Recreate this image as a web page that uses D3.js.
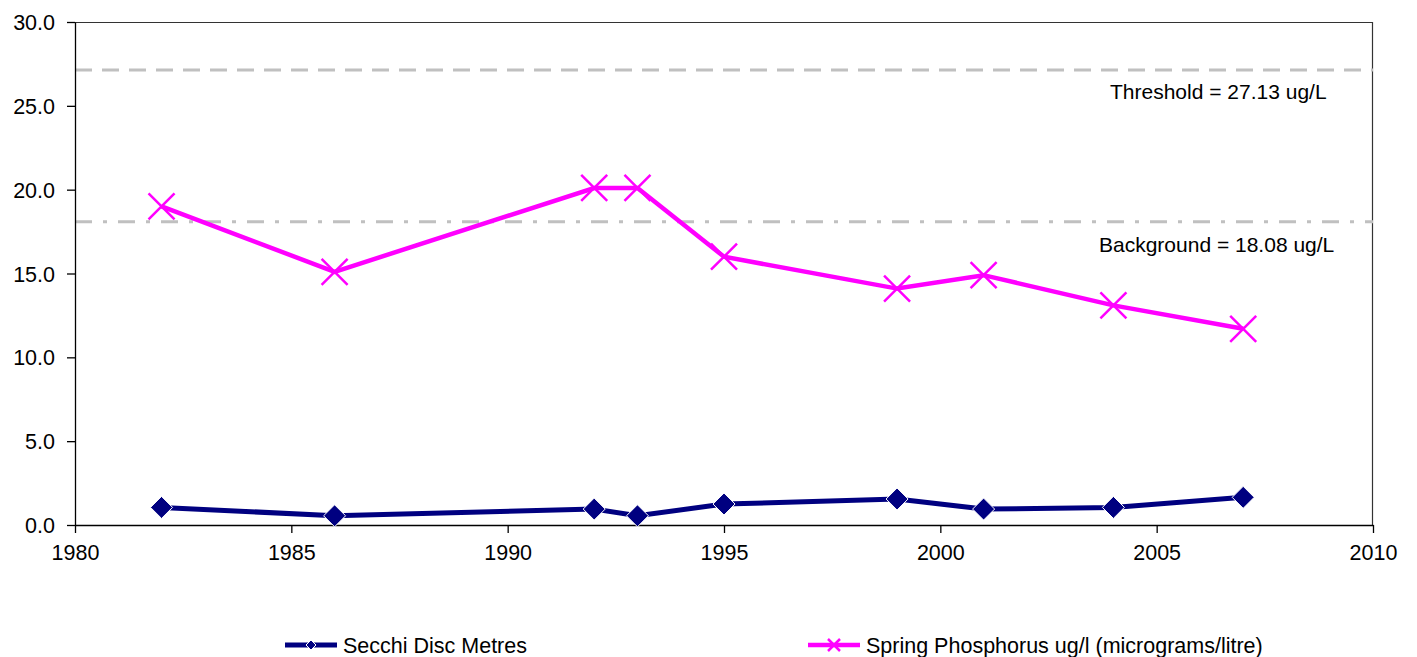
<!DOCTYPE html>
<html>
<head>
<meta charset="utf-8">
<script src="https://cdn.jsdelivr.net/npm/d3@7"></script>
<style>
  body { margin: 0; background: #fff; }
  text { font-family: "Liberation Sans", Arial, sans-serif; }
</style>
</head>
<body>
<div id="chart"></div>
<script>
var svgWidth = 1417;
var svgHeight = 657;

var margin = { top: 22, right: 44, bottom: 132, left: 75 };
var width = svgWidth - margin.left - margin.right;
var height = svgHeight - margin.top - margin.bottom;

// data
var years = [1982, 1986, 1992, 1993, 1995, 1999, 2001, 2004, 2007];
var secchi = [1.05, 0.55, 0.95, 0.55, 1.25, 1.55, 0.95, 1.05, 1.65];
var phosphorus = [19.0, 15.1, 20.1, 20.1, 16.0, 14.1, 14.9, 13.1, 11.7];
var xTicks = [1980, 1985, 1990, 1995, 2000, 2005, 2010];
var yTicks = [0, 5, 10, 15, 20, 25, 30];
var threshold = 27.13;
var background = 18.08;

var svg = d3.select("#chart")
  .append("svg")
  .attr("width", svgWidth)
  .attr("height", svgHeight);

var chartGroup = svg.append("g")
  .attr("transform", `translate(${margin.left}, ${margin.top})`);

var xScale = d3.scaleLinear().domain([1980, 2010]).range([0, width]);
var yScale = d3.scaleLinear().domain([0, 30]).range([height, 0]);

// plot border (top / right)
chartGroup.append("path")
  .attr("d", `M0,0.5H${width - 0.5}V${height}`)
  .attr("fill", "none")
  .attr("stroke", "#333")
  .attr("stroke-width", 1.2);

// reference lines
chartGroup.append("line")
  .attr("x1", 0).attr("x2", width)
  .attr("y1", yScale(threshold)).attr("y2", yScale(threshold))
  .attr("stroke", "#c0c0c0")
  .attr("stroke-width", 3)
  .attr("stroke-dasharray", "17,10");

chartGroup.append("line")
  .attr("x1", 0).attr("x2", width)
  .attr("y1", yScale(background)).attr("y2", yScale(background))
  .attr("stroke", "#c0c0c0")
  .attr("stroke-width", 3)
  .attr("stroke-dasharray", "17,11,4,11");

chartGroup.append("text")
  .attr("x", 1035).attr("y", yScale(threshold) + 29)
  .style("font-size", "21px")
  .text("Threshold = " + threshold + " ug/L");

chartGroup.append("text")
  .attr("x", 1024).attr("y", yScale(background) + 30)
  .style("font-size", "21px")
  .text("Background = " + background + " ug/L");

// axes
var bottomAxis = d3.axisBottom(xScale).tickValues(xTicks).tickFormat(d3.format("d")).tickSize(8).tickSizeOuter(0);
var leftAxis = d3.axisLeft(yScale).tickValues(yTicks).tickFormat(d3.format(".1f")).tickSize(8).tickSizeOuter(0);

var gx = chartGroup.append("g")
  .attr("transform", `translate(0, ${height})`)
  .call(bottomAxis);
gx.selectAll("text").style("font-size", "21.5px").attr("y", 16).attr("dy", "0.9em").attr("fill", "#000");

var gy = chartGroup.append("g").call(leftAxis);
gy.selectAll("text").style("font-size", "21.5px").attr("dy", "0.35em").attr("x", -20).attr("fill", "#000");

chartGroup.selectAll(".domain, .tick line").attr("stroke", "#000").attr("stroke-width", 1.3);

// series lines
var seriesLine = d3.line().x((d, i) => xScale(years[i])).y(d => yScale(d));

chartGroup.append("path")
  .datum(phosphorus)
  .attr("d", seriesLine)
  .attr("fill", "none")
  .attr("stroke", "#ff00ff")
  .attr("stroke-width", 4.5);

chartGroup.append("path")
  .datum(secchi)
  .attr("d", seriesLine)
  .attr("fill", "none")
  .attr("stroke", "#000080")
  .attr("stroke-width", 5);

// markers
function xPath(s) { return `M${-s},${-s}L${s},${s}M${-s},${s}L${s},${-s}`; }

chartGroup.selectAll(".pmark")
  .data(phosphorus)
  .enter()
  .append("path")
  .attr("class", "pmark")
  .attr("transform", (d, i) => `translate(${xScale(years[i])}, ${yScale(d)})`)
  .attr("d", xPath(13))
  .attr("fill", "none")
  .attr("stroke", "#ff00ff")
  .attr("stroke-width", 2.5);

chartGroup.selectAll(".smark")
  .data(secchi)
  .enter()
  .append("path")
  .attr("class", "smark")
  .attr("transform", (d, i) => `translate(${xScale(years[i])}, ${yScale(d)})`)
  .attr("d", "M0,-11L11,0L0,11L-11,0Z")
  .attr("fill", "#000080")
  .attr("stroke", "#fff")
  .attr("stroke-width", 1);

// legend
var legend = svg.append("g").attr("transform", "translate(0, 645)");

legend.append("line").attr("x1", 285).attr("x2", 337).attr("y1", 0).attr("y2", 0)
  .attr("stroke", "#000080").attr("stroke-width", 5);
legend.append("path").attr("transform", "translate(311,0)").attr("d", "M0,-5L5,0L0,5L-5,0Z")
  .attr("fill", "#000080").attr("stroke", "#fff");
legend.append("text").attr("x", 343).attr("y", 8).style("font-size", "21.5px").text("Secchi Disc Metres");

legend.append("line").attr("x1", 808).attr("x2", 860).attr("y1", 0).attr("y2", 0)
  .attr("stroke", "#ff00ff").attr("stroke-width", 4.5);
legend.append("path").attr("transform", "translate(834,0)").attr("d", xPath(6))
  .attr("fill", "none").attr("stroke", "#ff00ff").attr("stroke-width", 2.5);
legend.append("text").attr("x", 866).attr("y", 8).style("font-size", "21.5px").text("Spring Phosphorus ug/l (micrograms/litre)");
</script>
</body>
</html>
